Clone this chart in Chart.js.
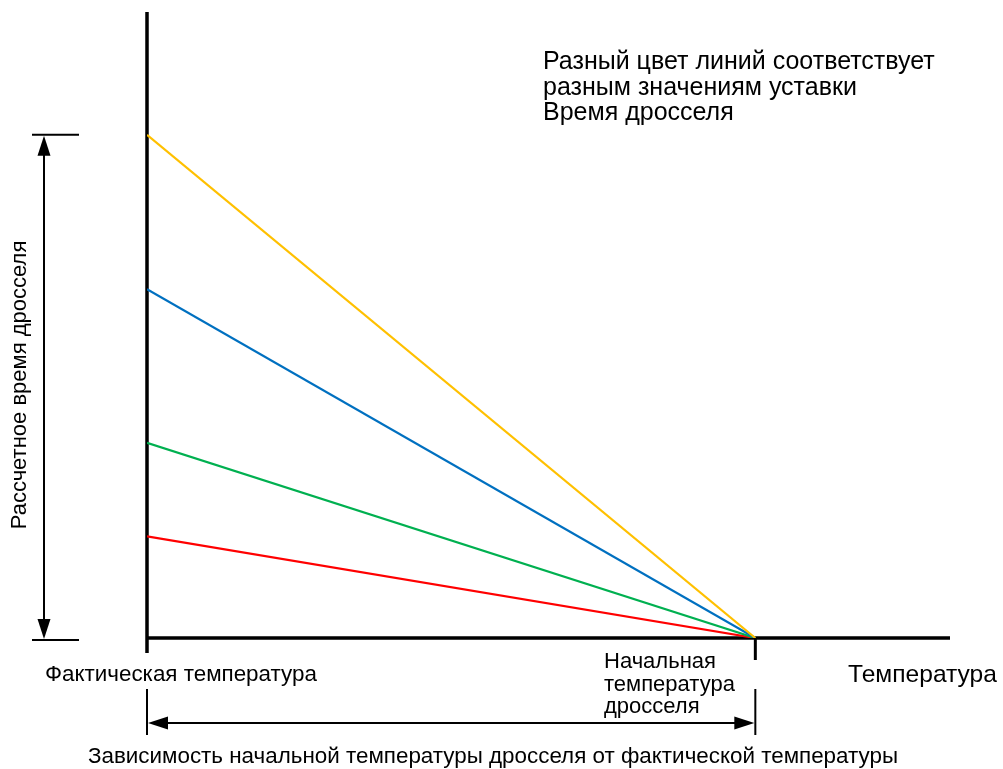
<!DOCTYPE html>
<html>
<head>
<meta charset="utf-8">
<script src="https://cdn.jsdelivr.net/npm/chart.js@4"></script>
<style>
  html, body { margin: 0; padding: 0; background: #fff; }
  #wrap { width: 1003px; height: 769px; }
</style>
</head>
<body>
<div id="wrap"><canvas id="grafico"></canvas></div>
<script>
// температура: фактическая (0) и начальная температура дросселя (100)
const tempPoints = [0, 100];
const tempMax = 132;
const timeMax = 124;

// расчетное время дросселя для разных уставок
const lineNames = ['Уставка 4', 'Уставка 3', 'Уставка 2', 'Уставка 1'];
const lineValues = [
    [100, 0],
    [69.3, 0],
    [38.8, 0],
    [20.2, 0]
];
const lineColors = ['#ffc000', '#0070c0', '#00b050', '#ff0000'];

const FONT = 'Arial, "Liberation Sans", sans-serif';

function arrowHead(ctx, x, y, dir) {
    // dir: 'up', 'down', 'left', 'right'
    const L = 20, W = 6.5;
    ctx.beginPath();
    ctx.moveTo(x, y);
    if (dir === 'up') { ctx.lineTo(x - W, y + L); ctx.lineTo(x + W, y + L); }
    if (dir === 'down') { ctx.lineTo(x - W, y - L); ctx.lineTo(x + W, y - L); }
    if (dir === 'left') { ctx.lineTo(x + L, y - W); ctx.lineTo(x + L, y + W); }
    if (dir === 'right') { ctx.lineTo(x - L, y - W); ctx.lineTo(x - L, y + W); }
    ctx.closePath();
    ctx.fill();
}

const schemePlugin = {
    id: 'scheme',
    beforeDatasetsDraw(chart) {
        const ctx = chart.ctx;
        const xs = chart.scales.x, ys = chart.scales.y;
        const x0 = xs.getPixelForValue(0);
        const y0 = ys.getPixelForValue(0);
        ctx.save();
        ctx.strokeStyle = '#000';
        ctx.lineWidth = 3.5;
        ctx.lineCap = 'butt';
        // оси
        ctx.beginPath();
        ctx.moveTo(x0, ys.getPixelForValue(timeMax) - 2);
        ctx.lineTo(x0, y0 + 15);
        ctx.moveTo(x0, y0);
        ctx.lineTo(xs.getPixelForValue(tempMax), y0);
        ctx.stroke();
        ctx.restore();
    },
    afterDraw(chart) {
        const ctx = chart.ctx;
        const xs = chart.scales.x, ys = chart.scales.y;
        const x0 = xs.getPixelForValue(tempPoints[0]);
        const x1 = xs.getPixelForValue(tempPoints[1]);
        const y0 = ys.getPixelForValue(0);
        const yTop = ys.getPixelForValue(lineValues[0][0]);
        ctx.save();
        ctx.strokeStyle = '#000';
        ctx.fillStyle = '#000';

        // засечка начальной температуры
        ctx.lineWidth = 3;
        ctx.beginPath();
        ctx.moveTo(x1, y0);
        ctx.lineTo(x1, y0 + 22);
        ctx.stroke();

        // размерная линия по времени
        ctx.lineWidth = 2;
        ctx.beginPath();
        ctx.moveTo(32, yTop); ctx.lineTo(79, yTop);
        ctx.moveTo(32, y0 + 2); ctx.lineTo(79, y0 + 2);
        ctx.moveTo(44, yTop + 18); ctx.lineTo(44, y0 - 16);
        ctx.stroke();
        arrowHead(ctx, 44, yTop + 1, 'up');
        arrowHead(ctx, 44, y0 + 1, 'down');

        // размерная линия по температуре
        const yd = 723;
        ctx.beginPath();
        ctx.moveTo(x0, 689); ctx.lineTo(x0, 735);
        ctx.moveTo(x1, 689); ctx.lineTo(x1, 735);
        ctx.moveTo(x0 + 18, yd); ctx.lineTo(x1 - 18, yd);
        ctx.stroke();
        arrowHead(ctx, x0 + 1, yd, 'left');
        arrowHead(ctx, x1 - 1, yd, 'right');

        // подписи
        ctx.textBaseline = 'alphabetic';
        ctx.textAlign = 'left';
        ctx.font = '25px ' + FONT;
        ['Разный цвет линий соответствует', 'разным значениям уставки', 'Время дросселя']
            .forEach((t, i) => ctx.fillText(t, 543, 69 + i * 25.5));

        ctx.font = '22.4px ' + FONT;
        ctx.fillText('Фактическая температура', 45, 681);
        ctx.font = '22px ' + FONT;
        ['Начальная', 'температура', 'дросселя']
            .forEach((t, i) => ctx.fillText(t, 604, 668 + i * 22.5));

        ctx.font = '24.6px ' + FONT;
        ctx.fillText('Температура', 848, 682);

        ctx.font = '22.4px ' + FONT;
        ctx.textAlign = 'center';
        ctx.fillText('Зависимость начальной температуры дросселя от фактической температуры', 493, 763);

        ctx.font = '22px ' + FONT;
        ctx.translate(26, 385);
        ctx.rotate(-Math.PI / 2);
        ctx.fillText('Рассчетное время дросселя', 0, 0);
        ctx.restore();
    }
};

const ctx = document.getElementById('grafico').getContext('2d');
new Chart(ctx, {
    type: 'line',
    data: {
        datasets: lineNames.map((name, i) => ({
            label: name,
            data: tempPoints.map((t, j) => ({ x: t, y: lineValues[i][j] })),
            borderColor: lineColors[i],
            borderWidth: 2.2,
            pointRadius: 0,
            fill: false
        }))
    },
    options: {
        responsive: true,
        maintainAspectRatio: false,
        animation: false,
        layout: { padding: { left: 147, top: 14, right: 53, bottom: 131 } },
        plugins: {
            legend: { display: false },
            tooltip: { enabled: false }
        },
        scales: {
            x: { type: 'linear', min: 0, max: tempMax, display: false },
            y: { type: 'linear', min: 0, max: timeMax, display: false }
        }
    },
    plugins: [schemePlugin]
});
</script>
</body>
</html>
